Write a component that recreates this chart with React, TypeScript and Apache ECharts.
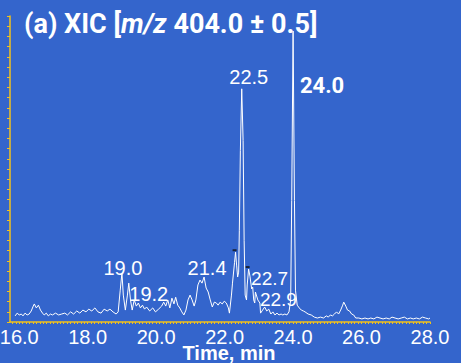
import React, { useEffect, useRef } from "react";
import * as echarts from "echarts";

// Extracted ion chromatogram, m/z 404.0 ± 0.5
const retentionTimes = [
  15.88, 15.94, 16.0, 16.06, 16.11, 16.17, 16.23, 16.29, 16.35, 16.41, 16.44, 16.5, 16.56, 16.62, 16.68, 16.73,
  16.79, 16.85, 16.91, 16.97, 17.06, 17.15, 17.24, 17.33, 17.41, 17.5, 17.59, 17.68, 17.77, 17.86, 17.95, 18.03,
  18.12, 18.21, 18.3, 18.39, 18.48, 18.57, 18.65, 18.74, 18.83, 18.89, 18.95, 19.0, 19.04, 19.1, 19.16, 19.2,
  19.25, 19.3, 19.36, 19.42, 19.48, 19.54, 19.6, 19.66, 19.72, 19.81, 19.9, 19.98, 20.07, 20.16, 20.22, 20.28,
  20.34, 20.4, 20.46, 20.52, 20.57, 20.63, 20.69, 20.75, 20.81, 20.87, 20.93, 20.99, 21.05, 21.11, 21.16, 21.22,
  21.28, 21.34, 21.4, 21.46, 21.52, 21.58, 21.64, 21.7, 21.76, 21.81, 21.87, 21.93, 21.99, 22.05, 22.11, 22.14,
  22.2, 22.23, 22.29, 22.32, 22.35, 22.38, 22.41, 22.43, 22.46, 22.5, 22.54, 22.57, 22.6, 22.64, 22.66, 22.7,
  22.74, 22.79, 22.82, 22.85, 22.88, 22.9, 22.97, 23.03, 23.05, 23.11, 23.17, 23.23, 23.29, 23.35, 23.41, 23.47,
  23.53, 23.59, 23.65, 23.7, 23.76, 23.82, 23.88, 23.93, 23.96, 24.0, 24.04, 24.07, 24.12, 24.18, 24.24, 24.3,
  24.35, 24.44, 24.53, 24.62, 24.71, 24.8, 24.89, 24.97, 25.03, 25.09, 25.15, 25.21, 25.27, 25.33, 25.39, 25.45,
  25.48, 25.54, 25.59, 25.65, 25.71, 25.77, 25.83, 25.92, 26.01, 26.1, 26.19, 26.27, 26.36, 26.45, 26.54, 26.63,
  26.72, 26.81, 26.89, 26.98, 27.07, 27.16, 27.25, 27.34, 27.43, 27.51, 27.6, 27.69, 27.78, 27.87, 27.96, 28.0,
];

const relIntensity = [
  2.0, 2.9, 2.3, 2.6, 2.0, 2.9, 2.3, 2.6, 3.6, 5.2, 5.9, 4.6, 5.5, 3.9, 2.9, 2.3,
  2.9, 2.0, 2.6, 2.3, 2.9, 2.3, 2.6, 2.9, 2.3, 3.3, 2.6, 3.6, 2.9, 3.9, 3.3, 4.2,
  3.6, 4.6, 3.3, 2.9, 4.2, 3.6, 4.2, 3.3, 2.6, 3.3, 10.4, 16.0, 8.8, 3.9, 8.8, 12.7,
  7.2, 3.9, 7.2, 5.2, 6.2, 4.6, 5.5, 4.2, 4.9, 3.6, 4.6, 3.3, 4.2, 5.2, 6.5, 5.2,
  7.2, 4.6, 7.8, 5.9, 8.1, 5.5, 4.6, 3.3, 2.3, 3.9, 7.2, 8.8, 7.2, 5.2, 7.2, 12.1,
  13.7, 12.7, 14.7, 11.1, 9.8, 7.2, 4.9, 6.5, 6.2, 5.5, 6.5, 5.9, 6.8, 6.2, 4.6, 2.9,
  8.8, 12.7, 19.5, 22.8, 18.6, 14.7, 16.3, 30.0, 56.0, 76.2, 59.3, 26.7, 8.8, 7.2, 12.1, 17.3,
  15.0, 10.8, 11.4, 7.2, 6.2, 9.8, 7.2, 6.2, 2.9, 3.9, 4.9, 3.6, 4.2, 2.6, 3.3, 2.3,
  2.9, 2.3, 2.6, 2.3, 2.6, 2.3, 3.3, 7.2, 39.7, 95.1, 39.7, 10.4, 5.5, 4.6, 3.9, 3.6,
  3.3, 2.6, 2.3, 1.6, 1.3, 1.6, 1.3, 2.0, 1.6, 2.3, 2.0, 2.6, 3.3, 2.6, 3.9, 5.5,
  6.5, 5.2, 3.9, 3.6, 2.6, 2.3, 1.3, 1.3, 1.0, 1.3, 1.0, 1.3, 1.0, 1.6, 1.3, 1.0,
  1.3, 1.0, 1.6, 1.3, 1.0, 1.3, 1.6, 1.0, 1.3, 1.0, 1.3, 1.0, 1.6, 1.3, 1.0, 1.3,
];

// Annotated peak apexes (retention time, min)
const peakTimes = [19.0, 19.2, 21.4, 22.5, 22.7, 22.9, 24.0];
const majorPeak = 24.0;

// Small dark cursor marks on the trace
const cursorTimes = [22.32, 22.7];

const xTickLabels = [16, 18, 20, 22, 24, 26, 28];

// Label placement around each apex, in pixels
const labelOffsets: Record<string, [number, number]> = {
  "19.0": [1, -5],
  "19.2": [20, 11],
  "21.4": [3, -9],
  "22.5": [7, -12],
  "22.7": [21, 9],
  "22.9": [23, 7],
  "24.0": [29, 55],
};
const smallLabels = ["22.7", "22.9"];

const BG = "#3465cc";
const AXIS = "#f2c21b";
const SANS = "'Liberation Sans', Arial, sans-serif";

function intensityAt(t: number): number {
  const i = retentionTimes.findIndex((x) => Math.abs(x - t) < 1e-6);
  return i >= 0 ? relIntensity[i] : 0;
}

export default function App() {
  const ref = useRef<HTMLDivElement>(null);

  useEffect(() => {
    if (!ref.current) return;
    const chart = echarts.init(ref.current, null, { renderer: "svg" });

    const trace = retentionTimes.map((t, i) => [t, relIntensity[i]]);
    const minorTicks: number[] = [];
    for (let k = 158; k <= 280; k++) minorTicks.push(k / 10);
    const yTicks: number[] = [];
    for (let k = 0; k <= 30; k++) yTicks.push((k * 100) / 30);

    const peakMarks = peakTimes.map((t) => {
      const name = t.toFixed(1);
      const major = t === majorPeak;
      const small = smallLabels.includes(name);
      return {
        name,
        coord: [t, intensityAt(t)],
        label: {
          show: true,
          position: "inside",
          offset: labelOffsets[name],
          formatter: name,
          color: "#ffffff",
          fontFamily: major ? "Roboto, " + SANS : SANS,
          fontWeight: major ? "bold" : "normal",
          fontSize: major ? 22 : small ? 19 : 20,
          lineHeight: major ? 22 : 17,
        },
      };
    });

    chart.setOption({
      animation: false,
      backgroundColor: BG,
      title: {
        left: 24,
        top: 10,
        padding: 0,
        text: "{a|(a) XIC [}{i|m/z}{a| 404.0 ± 0.5]}",
        textStyle: {
          rich: {
            a: { color: "#fff", fontSize: 27, fontWeight: "bold", fontFamily: "Roboto, " + SANS },
            i: { color: "#fff", fontSize: 27, fontWeight: "bold", fontStyle: "italic", fontFamily: "Roboto, " + SANS },
          },
        },
      },
      grid: { left: 10, right: 31, top: 16, bottom: 41, containLabel: false, outerBoundsMode: "none" },
      xAxis: {
        type: "value",
        min: 15.73,
        max: 28.0,
        name: "Time, min",
        nameLocation: "middle",
        nameGap: 24,
        nameMoveOverlap: false,
        nameTextStyle: {
          color: "#fff",
          fontSize: 20,
          lineHeight: 14,
          fontWeight: "bold",
          fontFamily: SANS,
          padding: [0, 0, 0, 18],
        },
        axisLine: { show: true, lineStyle: { color: AXIS, width: 1.5 } },
        axisTick: { show: true, customValues: minorTicks, length: 2, lineStyle: { color: AXIS, width: 1 } },
        axisLabel: {
          customValues: xTickLabels,
          formatter: (v: number) => v.toFixed(1),
          color: "#fff",
          fontSize: 20,
          lineHeight: 14,
          fontFamily: SANS,
          margin: 8,
        },
        splitLine: { show: false },
      },
      yAxis: {
        type: "value",
        min: 0,
        max: 100,
        axisLine: { show: true, lineStyle: { color: AXIS, width: 1.5 } },
        axisTick: { show: true, customValues: yTicks, length: 3, lineStyle: { color: AXIS, width: 1 } },
        axisLabel: { show: false },
        splitLine: { show: false },
      },
      series: [
        {
          type: "line",
          data: trace,
          showSymbol: false,
          lineStyle: { color: "#ffffff", width: 1 },
          markPoint: {
            symbol: "circle",
            symbolSize: 1,
            itemStyle: { color: "rgba(0,0,0,0)" },
            data: peakMarks,
          },
        },
        {
          type: "scatter",
          data: cursorTimes.map((t) => [t, intensityAt(t)]),
          symbol: "rect",
          symbolSize: [4, 2],
          symbolOffset: [-1, -2],
          itemStyle: { color: "#111111" },
        },
      ],
    });

    return () => chart.dispose();
  }, []);

  return (
    <div
      ref={ref}
      style={{ position: "fixed", left: 0, top: 0, width: 461, height: 363 }}
    />
  );
}
